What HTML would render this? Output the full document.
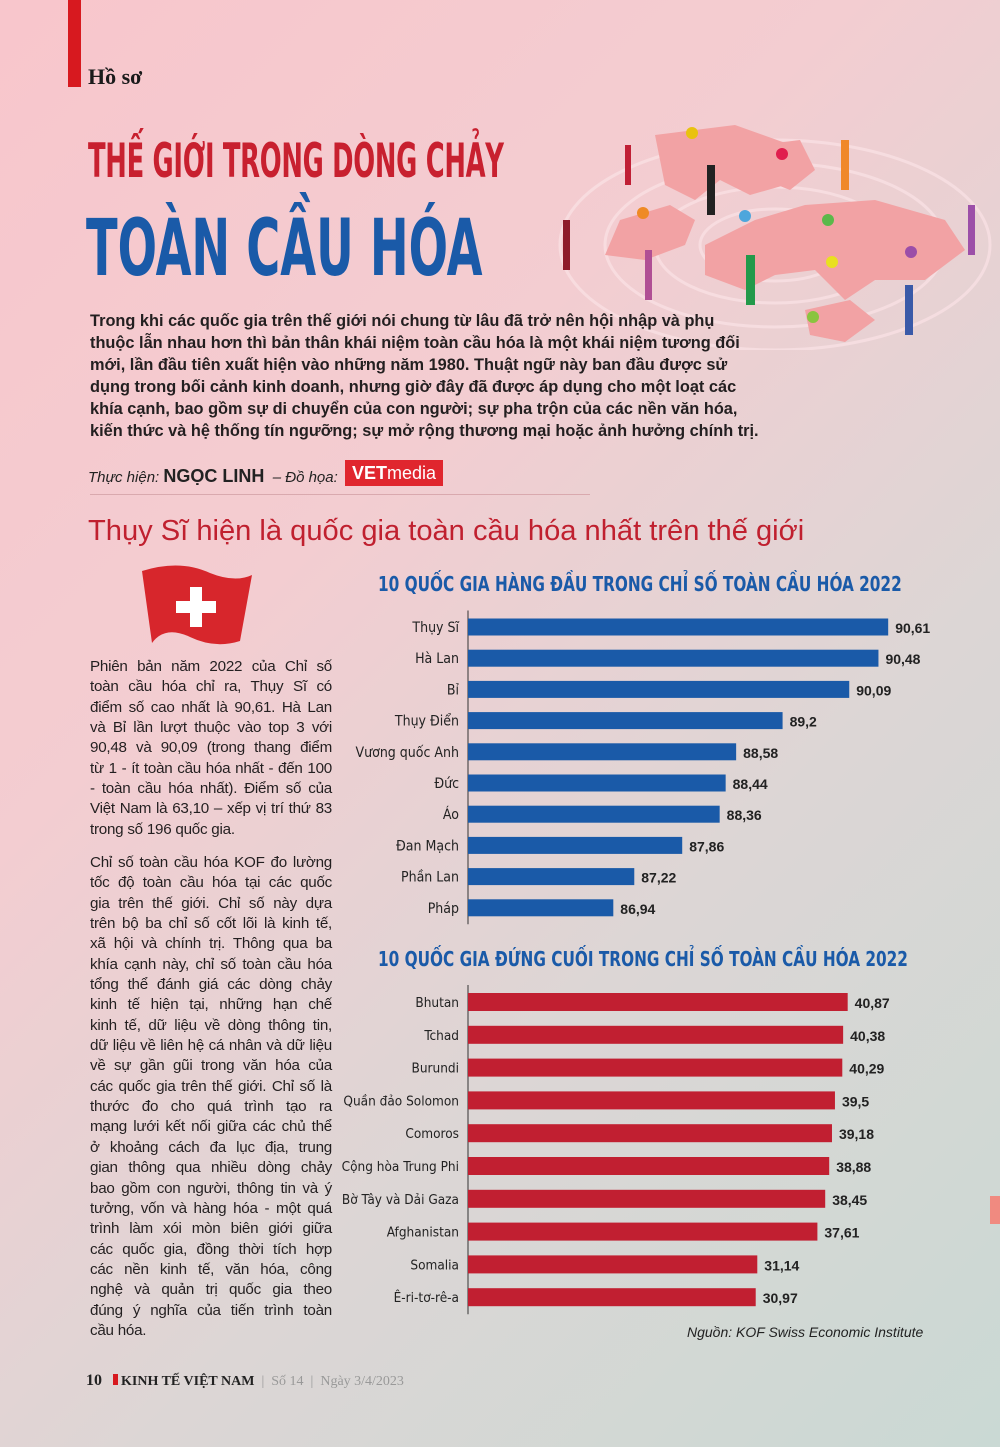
<!DOCTYPE html>
<html><head><meta charset="utf-8">
<style>
*{margin:0;padding:0;box-sizing:border-box}
body{width:1000px;height:1447px;overflow:hidden;position:relative;font-family:"Liberation Sans","DejaVu Sans",sans-serif;
background:linear-gradient(135deg,#f8c6cc 0%,#f3cdd1 35%,#dcd6d5 65%,#cad9d4 100%);}
.abs{position:absolute}
.cond{font-family:"Liberation Sans Narrow","DejaVu Sans Condensed","Liberation Sans",sans-serif}
.intro{left:90px;top:310px;font-weight:bold;font-size:16.35px;line-height:22px;color:#231f20;white-space:nowrap}
.col{left:90px;width:242px;font-size:15.2px;line-height:20.35px;color:#231f20}
.col div{text-align:justify;text-align-last:justify;white-space:nowrap;letter-spacing:-0.25px}
.col div.last{text-align-last:left}
.ctitle{font-weight:bold;color:#1a5aa8;font-size:20px;white-space:nowrap}
</style></head><body>
<div class="abs" style="left:68px;top:0;width:13px;height:87px;background:#d7191f"></div>
<div class="abs" style="left:88px;top:64px;font-family:'Liberation Serif',serif;font-weight:bold;font-size:22px;color:#1a1a1a">Hồ sơ</div>

<svg class="abs" style="left:545px;top:110px" width="455" height="240" viewBox="0 0 455 240">
<g fill="none" stroke="#fbe3e6" stroke-width="3" opacity="0.7">
<ellipse cx="230" cy="135" rx="215" ry="105"/><ellipse cx="230" cy="135" rx="170" ry="82"/><ellipse cx="230" cy="135" rx="120" ry="58"/><ellipse cx="230" cy="135" rx="75" ry="36"/>
</g>
<g fill="#f2a2a4">
<path d="M110 25 L190 15 L260 40 L240 75 L205 85 L175 70 L150 90 L120 75 Z"/>
<path d="M215 35 L255 30 L270 60 L245 80 L220 70 Z"/>
<path d="M75 110 L125 95 L150 110 L140 135 L100 150 L60 145 Z"/>
<path d="M160 135 L210 110 L260 95 L330 90 L400 110 L420 140 L380 170 L330 170 L300 190 L270 160 L230 165 L200 180 L160 165 Z"/>
<path d="M260 200 L305 190 L330 210 L300 232 L265 225 Z"/>
</g>
<g>
<circle cx="147" cy="23" r="6" fill="#e9c20f"/><circle cx="237" cy="44" r="6" fill="#e01f4e"/>
<circle cx="98" cy="103" r="6" fill="#ef8a25"/><circle cx="200" cy="106" r="6" fill="#4ea6dc"/>
<circle cx="283" cy="110" r="6" fill="#5cb84a"/><circle cx="287" cy="152" r="6" fill="#e9e01f"/>
<circle cx="366" cy="142" r="6" fill="#9b4ea8"/><circle cx="268" cy="207" r="6" fill="#8ac43f"/>
</g>
<g>
<rect x="80" y="35" width="6" height="40" fill="#c01f35"/><rect x="162" y="55" width="8" height="50" fill="#222"/>
<rect x="296" y="30" width="8" height="50" fill="#f0882a"/><rect x="18" y="110" width="7" height="50" fill="#8e1b2a"/>
<rect x="100" y="140" width="7" height="50" fill="#b04f94"/><rect x="201" y="145" width="9" height="50" fill="#23994a"/>
<rect x="423" y="95" width="7" height="50" fill="#9c4fa8"/><rect x="360" y="175" width="8" height="50" fill="#3a5aa8"/>
</g>
</svg>

<div class="abs cond" style="left:88px;top:134px;font-weight:bold;font-size:47px;color:#c8202f;letter-spacing:-0.5px;white-space:nowrap;transform:scaleX(0.61);transform-origin:left">THẾ GIỚI TRONG DÒNG CHẢY</div>
<div class="abs cond" style="left:86px;top:204px;font-weight:bold;font-size:78px;color:#1a5aa8;white-space:nowrap;transform:scaleX(0.66);transform-origin:left">TOÀN CẦU HÓA</div>

<div class="abs intro">Trong khi các quốc gia trên thế giới nói chung từ lâu đã trở nên hội nhập và phụ<br>thuộc lẫn nhau hơn thì bản thân khái niệm toàn cầu hóa là một khái niệm tương đối<br>mới, lần đầu tiên xuất hiện vào những năm 1980. Thuật ngữ này ban đầu được sử<br>dụng trong bối cảnh kinh doanh, nhưng giờ đây đã được áp dụng cho một loạt các<br>khía cạnh, bao gồm sự di chuyển của con người; sự pha trộn của các nền văn hóa,<br>kiến thức và hệ thống tín ngưỡng; sự mở rộng thương mại hoặc ảnh hưởng chính trị.</div>

<div class="abs" style="left:88px;top:466px;font-size:15px;color:#222;white-space:nowrap"><i>Thực hiện:</i> <b style="font-size:18px">NGỌC LINH</b> &nbsp;<i>– Đồ họa:</i></div>
<div class="abs" style="left:345px;top:460px;width:98px;height:26px;background:#e0262e;color:#fff;font-size:18px;line-height:26px;text-align:center"><b>VET</b>media</div>
<div class="abs" style="left:90px;top:494px;width:500px;height:1px;background:#d9a9ae"></div>

<div class="abs" style="left:88px;top:515px;font-size:29.1px;color:#c0202f;white-space:nowrap">Thụy Sĩ hiện là quốc gia toàn cầu hóa nhất trên thế giới</div>

<svg class="abs" style="left:140px;top:563px" width="114" height="84" viewBox="0 0 114 84">
<path d="M2 8 Q40 -4 70 10 Q95 20 112 12 L100 78 Q75 86 50 74 Q25 62 12 80 Z" fill="#d7262c"/>
<path d="M50 24 h12 v14 h14 v12 h-14 v14 h-12 v-14 h-14 v-12 h14 z" fill="#fff"/>
</svg>

<div class="abs col" style="top:657px">
<div>Phiên bản năm 2022 của Chỉ số</div><div>toàn cầu hóa chỉ ra, Thụy Sĩ có</div><div>điểm số cao nhất là 90,61. Hà Lan</div><div>và Bỉ lần lượt thuộc vào top 3 với</div><div>90,48 và 90,09 (trong thang điểm</div><div>từ 1 - ít toàn cầu hóa nhất - đến 100</div><div>- toàn cầu hóa nhất). Điểm số của</div><div>Việt Nam là 63,10 – xếp vị trí thứ 83</div><div class="last">trong số 196 quốc gia.</div>
</div>
<div class="abs col" style="top:853px">
<div>Chỉ số toàn cầu hóa KOF đo lường</div><div>tốc độ toàn cầu hóa tại các quốc</div><div>gia trên thế giới. Chỉ số này dựa</div><div>trên bộ ba chỉ số cốt lõi là kinh tế,</div><div>xã hội và chính trị. Thông qua ba</div><div>khía cạnh này, chỉ số toàn cầu hóa</div><div>tổng thể đánh giá các dòng chảy</div><div>kinh tế hiện tại, những hạn chế</div><div>kinh tế, dữ liệu về dòng thông tin,</div><div>dữ liệu về liên hệ cá nhân và dữ liệu</div><div>về sự gần gũi trong văn hóa của</div><div>các quốc gia trên thế giới. Chỉ số là</div><div>thước đo cho quá trình tạo ra</div><div>mạng lưới kết nối giữa các chủ thể</div><div>ở khoảng cách đa lục địa, trung</div><div>gian thông qua nhiều dòng chảy</div><div>bao gồm con người, thông tin và ý</div><div>tưởng, vốn và hàng hóa - một quá</div><div>trình làm xói mòn biên giới giữa</div><div>các quốc gia, đồng thời tích hợp</div><div>các nền kinh tế, văn hóa, công</div><div>nghệ và quản trị quốc gia theo</div><div>đúng ý nghĩa của tiến trình toàn</div><div class="last">cầu hóa.</div>
</div>

<div class="abs ctitle cond" style="left:378px;top:572px;transform:scaleX(0.85);transform-origin:left">10 QUỐC GIA HÀNG ĐẦU TRONG CHỈ SỐ TOÀN CẦU HÓA 2022</div>
<div class="abs ctitle cond" style="left:378px;top:947px;transform:scaleX(0.85);transform-origin:left">10 QUỐC GIA ĐỨNG CUỐI TRONG CHỈ SỐ TOÀN CẦU HÓA 2022</div>

<svg class="abs" id="charts" style="left:0;top:0" width="1000" height="1447"></svg>

<div class="abs" style="left:687px;top:1324px;font-size:14px;font-style:italic;color:#222;white-space:nowrap">Nguồn: KOF Swiss Economic Institute</div>

<div class="abs" style="left:86px;top:1372px;font-family:'Liberation Serif',serif;font-size:14px;white-space:nowrap;color:#222">
<b style="font-size:16px">10</b>&nbsp;&nbsp;&nbsp;<span style="display:inline-block;width:5px;height:11px;background:#d7191f"></span> <b>KINH TẾ VIỆT NAM</b> <span style="color:#999">&nbsp;|&nbsp; Số 14 &nbsp;|&nbsp; Ngày 3/4/2023</span></div>
<div class="abs" style="left:990px;top:1196px;width:10px;height:28px;background:#f08a80"></div>

<script>
const topCountries=["Thụy Sĩ","Hà Lan","Bỉ","Thụy Điển","Vương quốc Anh","Đức","Áo","Đan Mạch","Phần Lan","Pháp"];
const topValues=[90.61,90.48,90.09,89.2,88.58,88.44,88.36,87.86,87.22,86.94];
const topLabels=["90,61","90,48","90,09","89,2","88,58","88,44","88,36","87,86","87,22","86,94"];
const botCountries=["Bhutan","Tchad","Burundi","Quần đảo Solomon","Comoros","Cộng hòa Trung Phi","Bờ Tây và Dải Gaza","Afghanistan","Somalia","Ê-ri-tơ-rê-a"];
const botValues=[40.87,40.38,40.29,39.5,39.18,38.88,38.45,37.61,31.14,30.97];
const botLabels=["40,87","40,38","40,29","39,5","39,18","38,88","38,45","37,61","31,14","30,97"];

const svg=document.getElementById('charts');
const NS='http://www.w3.org/2000/svg';
function mk(tag,attrs){const e=document.createElementNS(NS,tag);for(const k in attrs)e.setAttribute(k,attrs[k]);svg.appendChild(e);return e;}
function drawChart(cats,vals,labels,cfg){
  const x=v=>cfg.x0+(v-cfg.vmin)*cfg.scale;
  const y=i=>cfg.y0+i*cfg.step;
  const ax=mk('line',{x1:cfg.x0,x2:cfg.x0,y1:y(0)-cfg.bh/2-8,y2:y(cats.length-1)+cfg.bh/2+8,stroke:'#333','stroke-width':1});
  
  
  cats.forEach((c,i)=>{
    const r=mk('rect',{x:cfg.x0,y:y(i)-cfg.bh/2,width:x(vals[i])-cfg.x0,height:cfg.bh,fill:cfg.color});
    
    
    const t=mk('text',{x:cfg.x0-9,y:y(i)+5,'text-anchor':'end','font-size':cfg.fs,fill:'#222','font-family':'Liberation Sans Narrow, DejaVu Sans Condensed, Liberation Sans, sans-serif'});
    t.textContent=c;
    
    
    const v=mk('text',{x:x(vals[i])+7,y:y(i)+6,'font-size':14,'font-weight':'bold',fill:'#222','font-family':'Liberation Sans, sans-serif'});
    v.textContent=labels[i];
    
    
  });
}
drawChart(topCountries,topValues,topLabels,{name:'top-chart',x0:468,vmin:85,scale:74.9,y0:627,step:31.2,bh:17,color:'#1a5aa8',fs:14});
drawChart(botCountries,botValues,botLabels,{name:'bottom-chart',x0:468,vmin:0,scale:9.29,y0:1002,step:32.8,bh:18,color:'#c11f31',fs:13.5});
</script>
</body></html>
